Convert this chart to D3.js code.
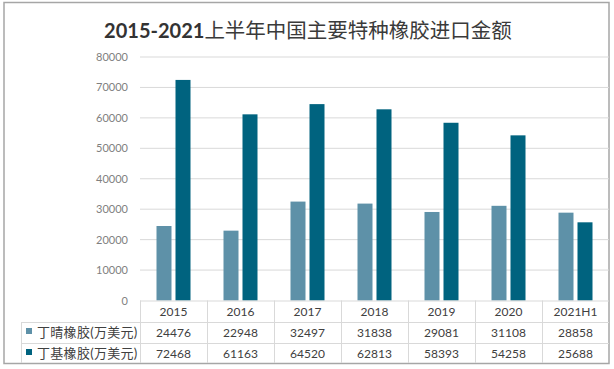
<!DOCTYPE html>
<html><head><meta charset="utf-8">
<script src="https://cdn.jsdelivr.net/npm/d3@7"></script>
<style>
body{margin:0;background:#fff;}
svg{display:block;}
</style></head>
<body>
<svg id="chart" width="614" height="369"></svg>
<script>
const titleYears = "2015-2021";
const titleText = "上半年中国主要特种橡胶进口金额";
const categories = ["2015","2016","2017","2018","2019","2020","2021H1"];
const seriesNames = ["丁晴橡胶(万美元)","丁基橡胶(万美元)"];
const nbrValues = [24476,22948,32497,31838,29081,31108,28858];
const iirValues = [72468,61163,64520,62813,58393,54258,25688];
const yTicks = [0,10000,20000,30000,40000,50000,60000,70000,80000];
const colors = ["#5e91a8","#00637f"];

const series = [
  {name: seriesNames[0], values: nbrValues, color: colors[0]},
  {name: seriesNames[1], values: iirValues, color: colors[1]}
];

const svg = d3.select("#chart");
const plotL = 140, plotR = 609, plotT = 57, plotB = 300.5;
const latin = "Lato, 'Noto Sans', sans-serif";
const cjk = "Lato, 'Noto Sans CJK SC', sans-serif";

svg.append("rect").attr("x",4).attr("y",2.5).attr("width",605).attr("height",361)
  .attr("fill","#fff").attr("stroke","#a6a6a6").attr("stroke-width",1.5);

const t = svg.append("text").attr("x",308).attr("y",38).attr("text-anchor","middle")
  .attr("font-family","Lato, 'Noto Sans CJK SC', sans-serif")
  .attr("font-size",20).attr("fill","#333");
t.append("tspan").attr("font-weight","bold").text(titleYears);
t.append("tspan").attr("font-weight","normal").attr("font-size",20.5).attr("fill","#3a3a3a").text(titleText);

const x = d3.scaleBand().domain(categories).range([plotL,plotR]).paddingInner(0).paddingOuter(0);
const y = d3.scaleLinear().domain([0,80000]).range([plotB,plotT]);

// gridlines
svg.append("g").selectAll("line").data(yTicks.filter(d=>d>0)).join("line")
  .attr("x1",plotL).attr("x2",plotR).attr("y1",d=>y(d)).attr("y2",d=>y(d))
  .attr("stroke","#d9d9d9").attr("stroke-width",1);

// y axis labels
const yAxis = d3.axisLeft(y).tickValues(yTicks).tickSize(0).tickPadding(0).tickFormat(d3.format("d"));
const ya = svg.append("g").attr("transform",`translate(128,0)`).call(yAxis);
ya.select(".domain").remove();
ya.selectAll("text").attr("font-family",latin).attr("font-size",11).attr("fill","#7f7f7f");

// bars
const barW = 15, gap = 4;
const x1 = d3.scaleBand().domain([0,1]).range([0, barW*2+gap]).paddingInner(gap/(barW+gap)).paddingOuter(0);
const off = (x.bandwidth() - (barW*2+gap))/2;
series.forEach((s,si)=>{
  svg.append("g").selectAll("rect").data(s.values).join("rect")
    .attr("x",(d,i)=>x(categories[i]) + off + x1(si))
    .attr("width",x1.bandwidth())
    .attr("y",d=>y(d)).attr("height",d=>y(0)-y(d))
    .attr("fill",s.color);
});

// data table
const g = svg.append("g").attr("stroke","#d9d9d9").attr("stroke-width",1).attr("fill","none");
g.append("line").attr("x1",plotL).attr("x2",plotR).attr("y1",plotB+0.5).attr("y2",plotB+0.5);
g.append("line").attr("x1",21).attr("x2",plotR).attr("y1",322.5).attr("y2",322.5);
g.append("line").attr("x1",21).attr("x2",plotR).attr("y1",343.5).attr("y2",343.5);
g.append("line").attr("x1",21.5).attr("x2",21.5).attr("y1",322.5).attr("y2",363);
categories.forEach(c=>{
  g.append("line").attr("x1",x(c)+0.5).attr("x2",x(c)+0.5).attr("y1",plotB).attr("y2",363);
});

// header labels
svg.append("g").selectAll("text").data(categories).join("text")
  .attr("x",d=>x(d)+x.bandwidth()/2).attr("y",316).attr("text-anchor","middle")
  .attr("font-family",latin).attr("font-size",12).attr("fill","#404040").text(d=>d);

// series rows
series.forEach((s,si)=>{
  const yy = 337 + si*21;
  svg.append("rect").attr("x",26).attr("y",yy-9).attr("width",6).attr("height",6).attr("fill",s.color);
  svg.append("text").attr("x",37).attr("y",yy).attr("font-family",cjk).attr("font-size",13)
    .attr("fill","#404040").attr("letter-spacing",0.3).text(s.name);
  svg.append("g").selectAll("text").data(s.values).join("text")
    .attr("x",(d,i)=>x(categories[i])+x.bandwidth()/2).attr("y",yy).attr("text-anchor","middle")
    .attr("font-family",latin).attr("font-size",12).attr("fill","#404040").text(d=>d);
});
</script>
</body></html>
